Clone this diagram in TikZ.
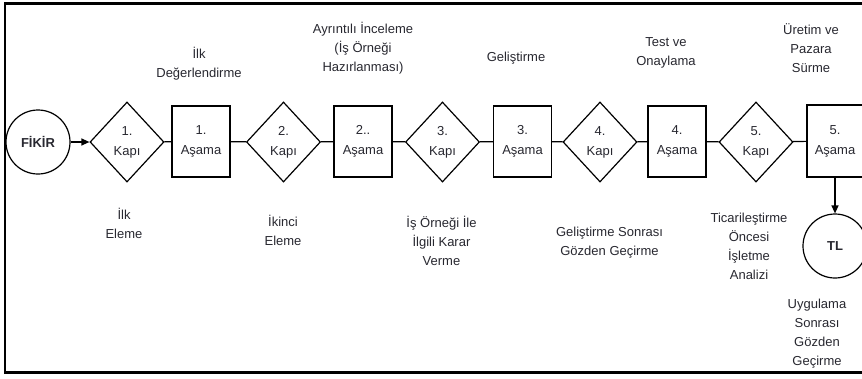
\documentclass[tikz,border=0pt]{standalone}
\usepackage{fontspec}
\setmainfont{Liberation Sans}
\usetikzlibrary{shapes.geometric,arrows.meta}
\definecolor{txt}{RGB}{40,40,48}
\tikzset{
  lbl/.style={align=center,text=txt,font=\fontsize{13}{19}\selectfont,inner sep=0pt},
  gate/.style={diamond,draw=black,line width=1.2pt,minimum width=74pt,minimum height=80pt,inner sep=0pt,aspect=0.925,align=center,text=txt,font=\fontsize{13}{20}\selectfont},
  stage/.style={rectangle,draw=black,line width=1.2pt,minimum width=58pt,minimum height=71pt,inner sep=0pt,align=center,text=txt,font=\fontsize{13}{20}\selectfont},
  term/.style={circle,draw=black,line width=1.2pt,minimum size=64pt,inner sep=0pt,text=txt,font=\fontsize{13}{16}\selectfont\bfseries},
  link/.style={draw=black,line width=1.2pt},
  arr/.style={draw=black,line width=1.3pt,-{Triangle[length=8pt,width=7pt]}}
}
\begin{document}
\begin{tikzpicture}[x=1pt,y=-1pt]
\useasboundingbox (0,0) rectangle (862,378);
\clip (0,0) rectangle (862,378);
\fill[white] (0,0) rectangle (862,378);
\draw[line width=2.5pt,black] (880,3.5) -- (5,3.5) -- (5,372.5) -- (880,372.5);

\node[term] (fikir) at (38,142) {FİKİR};
\node[gate] (g1) at (127,142) {1.\\Kapı};
\node[stage] (s1) at (201,141.5) {1.\\Aşama};
\node[gate] (g2) at (283.5,142) {2.\\Kapı};
\node[stage] (s2) at (363,141.5) {2..\\Aşama};
\node[gate] (g3) at (442.5,142) {3.\\Kapı};
\node[stage] (s3) at (522.5,141.5) {3.\\Aşama};
\node[gate] (g4) at (600,142) {4.\\Kapı};
\node[stage] (s4) at (677,141.5) {4.\\Aşama};
\node[gate] (g5) at (756,142) {5.\\Kapı};
\node[stage,minimum width=56pt,minimum height=72pt] (s5) at (835,141) {5.\\Aşama};
\node[term] (tl) at (835,246) {TL};

\draw[arr] (fikir) -- (g1);
\draw[link] (g1) -- (s1);
\draw[link] (s1) -- (g2);
\draw[link] (g2) -- (s2);
\draw[link] (s2) -- (g3);
\draw[link] (g3) -- (s3);
\draw[link] (s3) -- (g4);
\draw[link] (g4) -- (s4);
\draw[link] (s4) -- (g5);
\draw[link] (g5) -- (s5);
\draw[arr] (s5) -- (tl);

\node[lbl] (t1) at (199,64) {İlk\\Değerlendirme};
\node[lbl] (t2) at (363,48) {Ayrıntılı İnceleme\\(İş Örneği\\Hazırlanması)};
\node[lbl] (t3) at (516,58) {Geliştirme};
\node[lbl] (t4) at (666,52.5) {Test ve\\Onaylama};
\node[lbl] (t5) at (811,48) {Üretim ve\\Pazara\\Sürme};

\node[lbl] (b1) at (124,223) {İlk\\Eleme};
\node[lbl] (b2) at (283,230) {İkinci\\Eleme};
\node[lbl] (b3) at (441.5,241) {İş Örneği İle\\İlgili Karar\\Verme};
\node[lbl] (b4) at (609.5,242.5) {Geliştirme Sonrası\\Gözden Geçirme};
\node[lbl] (b5) at (749,246.5) {Ticarileştirme\\Öncesi\\İşletme\\Analizi};
\node[lbl] (b6) at (817,333.5) {Uygulama\\Sonrası\\Gözden\\Geçirme};
\end{tikzpicture}
\end{document}
